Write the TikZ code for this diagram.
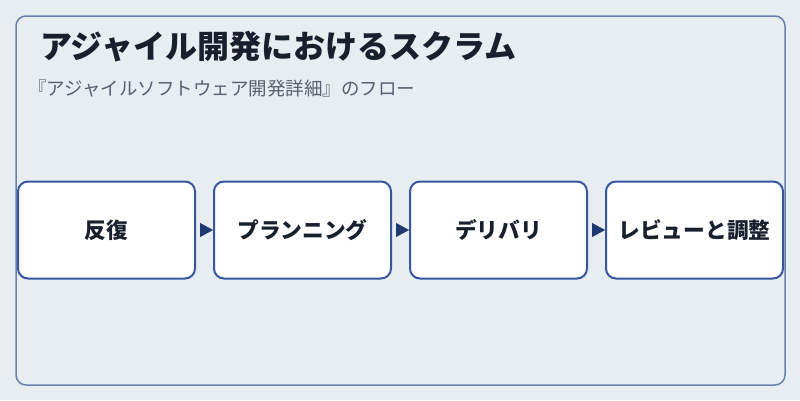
\documentclass[tikz,border=0pt]{standalone}
\usepackage{fontspec}
\setmainfont{Noto Sans CJK JP}
\usetikzlibrary{arrows.meta,%
                positioning}
\definecolor{bgcol}{HTML}{E8EDF2}
\definecolor{framecol}{HTML}{6881AD}
\definecolor{boxcol}{HTML}{3657A0}
\definecolor{tipcol}{HTML}{1F3A70}
\definecolor{inkcol}{HTML}{18202E}
\definecolor{subcol}{HTML}{56606E}

\begin{document}
\begin{tikzpicture}[x=1pt,y=-1pt,
  stepbox/.style={draw=boxcol, line width=2pt, fill=white, rounded corners=10pt,
    minimum width=177pt, minimum height=97pt, inner sep=0pt,
    text=inkcol, font=\bfseries\fontsize{21.7}{26}\selectfont},
  flowtip/.style={-{Triangle[width=14pt,length=13pt]}, tipcol, line width=0.1pt,
    shorten <=4pt}]
\fill[bgcol] (0,0) rectangle (800,400);
\useasboundingbox (0,0) rectangle (800,400);
\draw[framecol, line width=1.5pt, rounded corners=10pt] (16,16) rectangle (785,385);
% title and subtitle
\node[anchor=west, inner sep=0pt, text=inkcol, font=\bfseries\fontsize{32}{38}\selectfont]
  (title) at (40,47) {アジャイル開発におけるスクラム};
\node[anchor=west, inner sep=0pt, text=subcol, font=\fontsize{18.5}{22}\selectfont]
  (subtitle) at (28,89) {『アジャイルソフトウェア開発詳細』のフロー};
% flow
\node[stepbox] (iter) at (106.5,230) {反復};
\node[stepbox, right=17pt of iter] (plan) {プランニング};
\node[stepbox, right=17pt of plan] (deliv) {デリバリ};
\node[stepbox, right=17pt of deliv] (review) {レビューと調整};
\draw[flowtip] (iter) -- (plan);
\draw[flowtip] (plan) -- (deliv);
\draw[flowtip] (deliv) -- (review);
\end{tikzpicture}
\end{document}
